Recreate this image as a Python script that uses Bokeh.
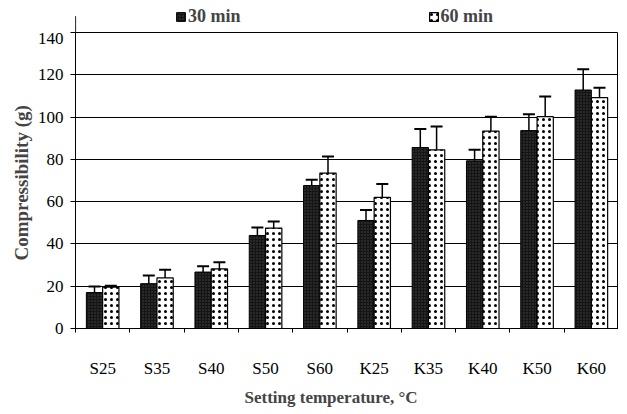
import numpy as np
from bokeh.plotting import figure
from bokeh.layouts import column
from bokeh.models import (ColumnDataSource, FixedTicker, Legend, LegendItem,
                          Whisker, TeeHead, Range1d, Title)
from bokeh.embed import file_html
from bokeh.resources import INLINE

categories = ["S25", "S35", "S40", "S50", "S60", "K25", "K35", "K40", "K50", "K60"]
min30 = [17.0, 21.2, 26.7, 44.0, 67.6, 51.1, 85.6, 79.3, 93.6, 112.8]
err30 = [2.9, 3.9, 2.7, 3.8, 2.7, 5.0, 8.8, 5.2, 7.7, 9.8]
min60 = [19.6, 23.9, 28.2, 47.5, 73.5, 62.0, 84.5, 93.4, 100.2, 109.2]
err60 = [0.6, 3.9, 3.1, 3.1, 7.8, 6.3, 11.0, 6.8, 9.5, 4.7]
y_ticks = [0, 20, 40, 60, 80, 100, 120, 140]
series_names = ["30 min", "60 min"]

SERIF = "Liberation Serif"
STYLE30 = dict(fill_color="#151515", line_color="black", line_width=1,
               hatch_pattern=".", hatch_color="#444444", hatch_scale=3,
               hatch_weight=1)
STYLE60 = dict(fill_color="white", line_color="black", line_width=1.2,
               hatch_pattern=".", hatch_color="black", hatch_scale=6,
               hatch_weight=2.5)

centers = np.arange(len(categories)) + 0.5
bw = 0.3
src30 = ColumnDataSource(dict(x=centers - bw / 2, top=min30,
                              up=np.array(min30) + np.array(err30)))
src60 = ColumnDataSource(dict(x=centers + bw / 2, top=min60,
                              up=np.array(min60) + np.array(err60)))

# ---- main chart ----
p = figure(frame_width=543, frame_height=296, output_backend="svg",
           toolbar_location=None,
           x_range=Range1d(0, len(categories)), y_range=Range1d(0, 140),
           min_border_left=75, min_border_right=0, min_border_top=0,
           min_border_bottom=70)
p.background_fill_color = "white"
p.border_fill_color = "white"
p.outline_line_color = "black"
p.outline_line_width = 1

p.vbar(x="x", top="top", width=bw, source=src30, **STYLE30)
p.vbar(x="x", top="top", width=bw, source=src60, **STYLE60)

for src in (src30, src60):
    w = Whisker(base="x", lower="top", upper="up", source=src,
                line_color="black", line_width=1.5,
                upper_head=TeeHead(size=12, line_color="black", line_width=2),
                lower_head=None)
    p.add_layout(w)

p.xgrid.visible = False
p.ygrid.grid_line_color = "black"
p.ygrid.grid_line_width = 1
p.ygrid.ticker = FixedTicker(ticks=y_ticks)

p.yaxis.ticker = FixedTicker(ticks=y_ticks)
p.yaxis.axis_label = "Compressibility  (g)"
p.yaxis.axis_label_text_font = SERIF
p.yaxis.axis_label_text_font_style = "bold"
p.yaxis.axis_label_text_font_size = "19px"
p.yaxis.axis_label_standoff = 3
p.yaxis.major_label_text_font = SERIF
p.yaxis.major_label_text_font_size = "17px"
p.yaxis.major_label_text_color = "black"
p.yaxis.major_label_standoff = 7
p.yaxis.major_tick_out = 5
p.yaxis.major_tick_in = 0
p.yaxis.minor_tick_line_color = None
p.yaxis.axis_line_color = "black"

p.xaxis.ticker = FixedTicker(ticks=list(centers),
                             minor_ticks=list(range(len(categories) + 1)))
p.xaxis.major_label_overrides = {float(c): n for c, n in zip(centers, categories)}
p.xaxis.major_tick_line_color = None
p.xaxis.major_tick_out = 0
p.xaxis.major_tick_in = 0
p.xaxis.minor_tick_out = 4
p.xaxis.minor_tick_in = 0
p.xaxis.minor_tick_line_color = "black"
p.xaxis.major_label_text_font = SERIF
p.xaxis.major_label_text_font_size = "17px"
p.xaxis.major_label_text_color = "black"
p.xaxis.major_label_standoff = 26
p.xaxis.axis_line_color = "black"

xt = Title(text="Setting temperature, \u00b0C", align="left", offset=169,
           text_font=SERIF, text_font_style="bold", text_font_size="17px",
           standoff=11)
p.add_layout(xt, "below")

# ---- legend strip above the chart ----
lg = figure(frame_width=543, frame_height=32, output_backend="svg",
            toolbar_location=None, x_axis_type=None, y_axis_type=None,
            x_range=Range1d(0, 1), y_range=Range1d(0, 1),
            min_border_left=75, min_border_right=0, min_border_top=0,
            min_border_bottom=0)
lg.outline_line_color = None
lg.grid.visible = False
# legend swatches: one bar each, placed outside the visible range
l30 = lg.vbar(x=[-5], top=[0.5], width=bw, **STYLE30)
l60 = lg.vbar(x=[-5], top=[0.5], width=bw, **STYLE60)

legend = Legend(items=[LegendItem(label=series_names[0], renderers=[l30]),
                       LegendItem(label=series_names[1], renderers=[l60])],
                orientation="horizontal", location=(100, 5))
legend.padding = 0
legend.margin = 0
legend.spacing = 187
legend.border_line_color = None
legend.background_fill_alpha = 0
legend.glyph_width = 11
legend.glyph_height = 11
legend.label_standoff = 2
legend.label_text_font = SERIF
legend.label_text_font_style = "bold"
legend.label_text_font_size = "18px"
lg.add_layout(legend, "center")

layout = column(lg, p, spacing=0)
open("out.html", "w").write(file_html(layout, INLINE))
